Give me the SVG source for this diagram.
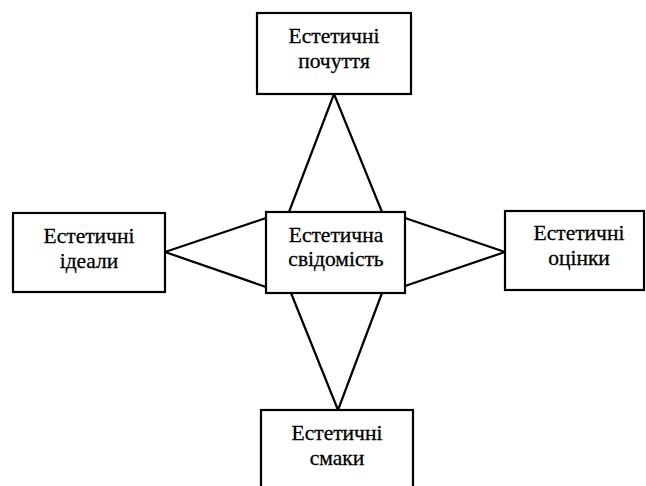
<svg xmlns="http://www.w3.org/2000/svg" width="646" height="486" viewBox="0 0 646 486">
<style>
.box{fill:#fff;stroke:#000;stroke-width:2.2}
.lbl{font-family:"Liberation Serif","Times New Roman",serif;font-size:21.5px;fill:#000;stroke:#000;stroke-width:0.3;text-anchor:middle}
.con{fill:none;stroke:#000;stroke-width:2.2;stroke-linejoin:round}
</style>
<rect width="646" height="486" fill="#fff"/>
<g id="connectors">
<polyline class="con" points="289,212 334,94 382,212"/>
<polyline class="con" points="266,218 165,252 266,287"/>
<polyline class="con" points="405,218 505,252 405,286"/>
<polyline class="con" points="291,293 338,410 382,293"/>
</g>
<g id="pochuttya">
<rect class="box" x="257" y="13" width="154" height="81"/>
<text class="lbl" x="334" y="43">Естетичні</text>
<text class="lbl" x="334" y="68">почуття</text>
</g>
<g id="idealy">
<rect class="box" x="13" y="213" width="152" height="79"/>
<text class="lbl" x="89" y="243">Естетичні</text>
<text class="lbl" x="89" y="268">ідеали</text>
</g>
<g id="svidomist">
<rect class="box" x="266" y="212" width="139" height="81"/>
<text class="lbl" x="336" y="242">Естетична</text>
<text class="lbl" x="336" y="266">свідомість</text>
</g>
<g id="otsinky">
<rect class="box" x="505" y="211" width="139" height="79"/>
<text class="lbl" x="579" y="240">Естетичні</text>
<text class="lbl" x="579" y="265">оцінки</text>
</g>
<g id="smaky">
<rect class="box" x="261" y="410" width="152" height="86"/>
<text class="lbl" x="337" y="440">Естетичні</text>
<text class="lbl" x="337" y="465">смаки</text>
</g>
</svg>
